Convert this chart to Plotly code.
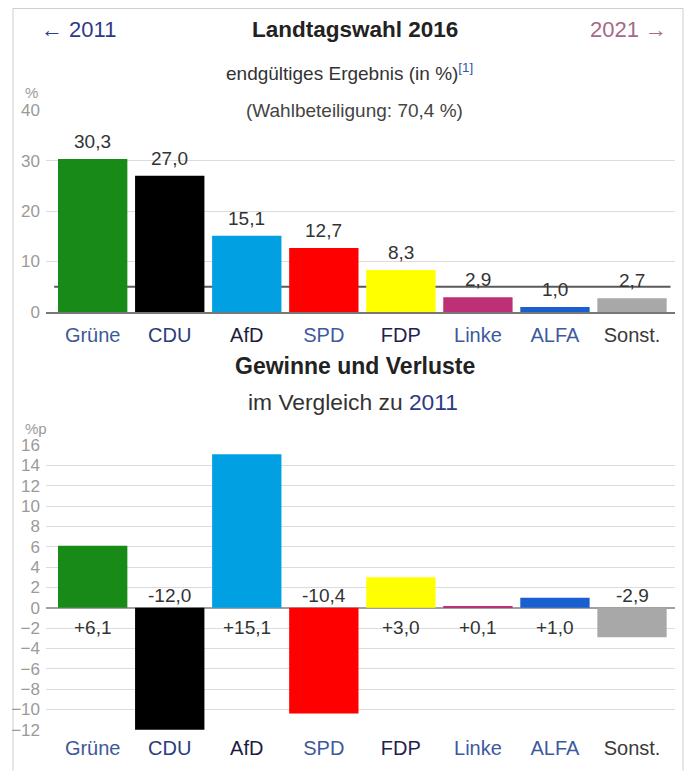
import plotly.graph_objects as go

# the page body adds an 8 px margin, so the figure is a bit smaller and offset
OFF = 8
W, H = 693 - OFF, 771 - OFF

parties = ["Grüne", "CDU", "AfD", "SPD", "FDP", "Linke", "ALFA", "Sonst."]
results = [30.3, 27.0, 15.1, 12.7, 8.3, 2.9, 1.0, 2.7]
changes = [6.1, -12.0, 15.1, -10.4, 3.0, 0.1, 1.0, -2.9]
bar_colors = ["#178a17", "#000000", "#00a0e2", "#ff0000", "#ffff00", "#be3075", "#1a5fd0", "#a8a8a8"]
label_colors = ["#3d5a96", "#2b3b7a", "#1c1c3c", "#3d5a9e", "#22224e", "#3d5a9e", "#3d5a9e", "#3a3a3a"]
threshold = 5
top_ticks = [0, 10, 20, 30, 40]
bottom_ticks = list(range(-12, 17, 2))

FONT = "Liberation Sans, Arial, sans-serif"


def px(x):
    return (x - OFF) / W


def py(y):
    return 1 - (y - OFF) / H


def fmt(v, sign=False):
    s = f"{v:+.1f}" if sign else f"{v:.1f}"
    return s.replace(".", ",")


ticktext = [f'<span style="color:{c}">{p}</span>' for p, c in zip(parties, label_colors)]

fig = go.Figure()

fig.add_trace(go.Bar(
    x=parties, y=results, marker=dict(color=bar_colors, line=dict(width=0)),
    xaxis="x", yaxis="y", showlegend=False, hoverinfo="x+y",
))

fig.add_trace(go.Bar(
    x=parties, y=changes, marker=dict(color=bar_colors, line=dict(width=0)),
    xaxis="x2", yaxis="y2", showlegend=False, hoverinfo="x+y",
))

# value labels derived from the data
for p, v in zip(parties, results):
    fig.add_annotation(x=p, y=v, xref="x", yref="y", text=fmt(v), showarrow=False,
                       yanchor="bottom", yshift=5, font=dict(size=19, color="#333333"))
for p, v in zip(parties, changes):
    fig.add_annotation(x=p, y=0, xref="x2", yref="y2", text=fmt(v, sign=True), showarrow=False,
                       yanchor="middle", yshift=(-20 if v >= 0 else 12),
                       font=dict(size=19, color="#333333"))

xdom = [px(46), px(675)]
xrange = [-0.606, 7.558]

common_x = dict(
    type="category", domain=xdom, range=xrange, tickvals=parties, ticktext=ticktext,
    tickfont=dict(size=20, family=FONT), showgrid=False, zeroline=False,
    ticks="", ticklabelstandoff=4, fixedrange=True, automargin=False,
)
common_y = dict(
    tickfont=dict(size=17, color="#9a9a9a", family=FONT),
    showgrid=True, gridcolor="#dcdcdc", gridwidth=1, ticks="", ticklabelstandoff=5,
    showline=False, fixedrange=True, automargin=False,
)

fig.update_layout(
    width=W, height=H, margin=dict(l=0, r=0, t=0, b=0, autoexpand=False),
    paper_bgcolor="white", plot_bgcolor="white",
    font=dict(family=FONT, color="#333333"),
    bargap=0.1,
    xaxis=dict(common_x, anchor="y", showline=True, linecolor="#777777", linewidth=1.5),
    yaxis=dict(common_y, domain=[py(312), py(110)], range=[0, 40.02], tickvals=top_ticks,
               zeroline=False),
    xaxis2=dict(common_x, anchor="y2", showline=False),
    yaxis2=dict(common_y, domain=[py(730), py(445)], range=[-12.02, 16.02], tickvals=bottom_ticks,
                zeroline=True, zerolinecolor="#a0a0a0", zerolinewidth=1.5),
)

# 5 % threshold line
fig.add_shape(type="line", xref="x", yref="y", x0=-0.5, x1=7.5, y0=threshold, y1=threshold,
              line=dict(color="#5a5a5a", width=2), layer="below")

# outer frame
fig.add_shape(type="rect", xref="paper", yref="paper", x0=px(13), x1=px(683), y0=-0.02, y1=py(8.5),
              line=dict(color="#cfcfcf", width=1), layer="below")

ann = [
    dict(text="← 2011", x=px(40), y=py(30), xanchor="left", font=dict(size=22, color="#2f3a86")),
    dict(text="<b>Landtagswahl 2016</b>", x=px(355), y=py(30), xanchor="center",
         font=dict(size=22.5, color="#222222")),
    dict(text="2021 →", x=px(668), y=py(30), xanchor="right", font=dict(size=22, color="#a46a86")),
    dict(text='endgültiges Ergebnis (in %)<sup><span style="color:#3355aa">[1]</span></sup>',
         x=px(225), y=py(72), xanchor="left", font=dict(size=19, color="#333333")),
    dict(text="(Wahlbeteiligung: 70,4 %)", x=px(354), y=py(110), xanchor="center",
         font=dict(size=19, color="#444444"), bgcolor="white"),
    dict(text="%", x=px(24), y=py(92), xanchor="left", font=dict(size=15, color="#9a9a9a")),
    dict(text="<b>Gewinne und Verluste</b>", x=px(355), y=py(366), xanchor="center",
         font=dict(size=23, color="#222222")),
    dict(text='im Vergleich zu <span style="color:#2f3a86">2011</span>', x=px(353), y=py(402),
         xanchor="center", font=dict(size=22.8, color="#333333")),
    dict(text="%p", x=px(24), y=py(428), xanchor="left", font=dict(size=15, color="#9a9a9a")),
]
for a in ann:
    fig.add_annotation(xref="paper", yref="paper", yanchor="middle", showarrow=False,
                       borderpad=0, **a)

fig.write_html("out.html")
